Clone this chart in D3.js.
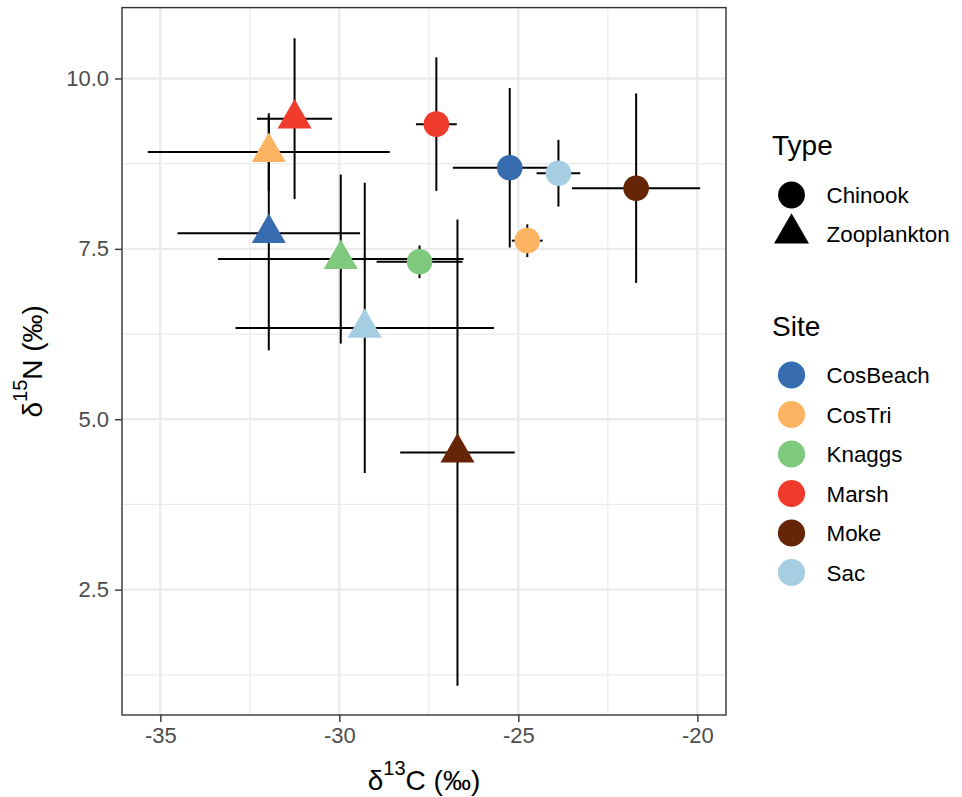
<!DOCTYPE html>
<html>
<head>
<meta charset="utf-8">
<script src="https://cdn.jsdelivr.net/npm/d3@7"></script>
<style>
  body { margin: 0; background: #fff; }
  svg text { font-family: "Liberation Sans", Arial, sans-serif; }
</style>
</head>
<body>
<div id="chart"></div>
<script>
// Site / type of each summary point
const sites = ["CosBeach", "CosTri", "Knaggs", "Marsh", "Moke", "Sac"]
const siteColors = ["#386cb0", "#fdb462", "#7fc97f", "#ef3b2c", "#662506", "#a6cee3"]
const types = ["Chinook", "Zooplankton"]

// Chinook means and SDs, ordered as sites
const chinookC = [-25.24, -24.75, -27.76, -27.29, -21.71, -23.88]
const chinookCsd = [1.59, 0.43, 1.20, 0.57, 1.79, 0.61]
const chinookN = [8.69, 7.62, 7.31, 9.33, 8.39, 8.61]
const chinookNsd = [1.17, 0.24, 0.24, 0.98, 1.39, 0.49]

// Zooplankton means and SDs, ordered as sites
const zooC = [-31.97, -31.97, -29.96, -31.25, -26.70, -29.29]
const zooCsd = [2.55, 3.38, 3.43, 1.05, 1.60, 3.61]
const zooN = [7.73, 8.92, 7.35, 9.41, 4.51, 6.34]
const zooNsd = [1.72, 0.57, 1.24, 1.18, 3.42, 2.13]

const xTicks = [-35, -30, -25, -20]
const xMinor = [-32.5, -27.5, -22.5]
const yTicks = [2.5, 5.0, 7.5, 10.0]
const yMinor = [1.25, 3.75, 6.25, 8.75]
const xLimits = [-36.07, -19.2]
const yLimits = [0.66, 11.04]

const width = 962, height = 797
const margin = { top: 7.6, right: 236, bottom: 82, left: 122 }

const data = []
sites.forEach((s, i) => {
  data.push({ site: s, type: "Chinook", c: chinookC[i], csd: chinookCsd[i], n: chinookN[i], nsd: chinookNsd[i] })
})
sites.forEach((s, i) => {
  data.push({ site: s, type: "Zooplankton", c: zooC[i], csd: zooCsd[i], n: zooN[i], nsd: zooNsd[i] })
})

const svg = d3.select("#chart").append("svg")
  .attr("width", width)
  .attr("height", height)

const x = d3.scaleLinear().domain(xLimits).range([margin.left, width - margin.right])
const y = d3.scaleLinear().domain(yLimits).range([height - margin.bottom, margin.top])
const color = d3.scaleOrdinal().domain(sites).range(siteColors)

const triangle = s => {
  const h = s * Math.sqrt(3) / 2
  return `M0,${-h * 2 / 3}L${s / 2},${h / 3}L${-s / 2},${h / 3}Z`
}
const marker = (sel, type, r, side) => {
  if (type === "Chinook") sel.append("circle").attr("r", r)
  else sel.append("path").attr("d", triangle(side))
}

// grid
const grid = svg.append("g")
grid.selectAll(".xminor").data(xMinor).join("line")
  .attr("x1", d => x(d)).attr("x2", d => x(d))
  .attr("y1", y.range()[0]).attr("y2", y.range()[1])
  .attr("stroke", "#ebebeb").attr("stroke-width", 1.2)
grid.selectAll(".yminor").data(yMinor).join("line")
  .attr("y1", d => y(d)).attr("y2", d => y(d))
  .attr("x1", x.range()[0]).attr("x2", x.range()[1])
  .attr("stroke", "#ebebeb").attr("stroke-width", 1.2)
grid.selectAll(".xmajor").data(xTicks).join("line")
  .attr("x1", d => x(d)).attr("x2", d => x(d))
  .attr("y1", y.range()[0]).attr("y2", y.range()[1])
  .attr("stroke", "#ebebeb").attr("stroke-width", 2.4)
grid.selectAll(".ymajor").data(yTicks).join("line")
  .attr("y1", d => y(d)).attr("y2", d => y(d))
  .attr("x1", x.range()[0]).attr("x2", x.range()[1])
  .attr("stroke", "#ebebeb").attr("stroke-width", 2.4)

// error bars
const bars = svg.append("g").attr("stroke", "#000").attr("stroke-width", 2)
bars.selectAll(".h").data(data).join("line")
  .attr("x1", d => x(d.c - d.csd)).attr("x2", d => x(d.c + d.csd))
  .attr("y1", d => y(d.n)).attr("y2", d => y(d.n))
bars.selectAll(".v").data(data).join("line")
  .attr("x1", d => x(d.c)).attr("x2", d => x(d.c))
  .attr("y1", d => y(d.n - d.nsd)).attr("y2", d => y(d.n + d.nsd))

// points
svg.append("g").selectAll("g").data(data).join("g")
  .attr("transform", d => `translate(${x(d.c)},${y(d.n)})`)
  .attr("fill", d => color(d.site))
  .each(function (d) { marker(d3.select(this), d.type, 12.8, 34) })

// panel border
svg.append("rect")
  .attr("x", x.range()[0]).attr("y", y.range()[1])
  .attr("width", x.range()[1] - x.range()[0])
  .attr("height", y.range()[0] - y.range()[1])
  .attr("fill", "none").attr("stroke", "#333").attr("stroke-width", 1.4)

// axes
const xAxis = svg.append("g")
  .attr("transform", `translate(0,${y.range()[0]})`)
  .call(d3.axisBottom(x).tickValues(xTicks).tickSize(7).tickPadding(5).tickFormat(d3.format("d")))
const yAxis = svg.append("g")
  .attr("transform", `translate(${x.range()[0]},0)`)
  .call(d3.axisLeft(y).tickValues(yTicks).tickSize(7).tickPadding(6).tickFormat(d3.format(".1f")))
;[xAxis, yAxis].forEach(a => {
  a.select(".domain").remove()
  a.selectAll(".tick line").attr("stroke", "#333").attr("stroke-width", 1.4)
  a.selectAll(".tick text").attr("fill", "#4d4d4d").style("font-size", "22px")
})
xAxis.selectAll(".tick text").text(d => d3.format("d")(d).replace("−", "-"))

// axis titles
const xTitle = svg.append("text")
  .attr("x", (x.range()[0] + x.range()[1]) / 2).attr("y", 790)
  .attr("text-anchor", "middle").style("font-size", "28px")
xTitle.append("tspan").text("δ")
xTitle.append("tspan").attr("dy", -15).style("font-size", "20px").text("13")
xTitle.append("tspan").attr("dy", 15).text("C (‰)")

const yTitle = svg.append("text")
  .attr("transform", `translate(42,${(y.range()[0] + y.range()[1]) / 2}) rotate(-90)`)
  .attr("text-anchor", "middle").style("font-size", "28px")
yTitle.append("tspan").text("δ")
yTitle.append("tspan").attr("dy", -15).style("font-size", "20px").text("15")
yTitle.append("tspan").attr("dy", 15).text("N (‰)")

// legends
const legend = svg.append("g")
legend.append("text").attr("x", 772).attr("y", 155).style("font-size", "28px").text("Type")
const typeRows = legend.selectAll(".type").data(types).join("g")
  .attr("transform", (d, i) => `translate(791.5,${195 + i * 38.5})`)
typeRows.each(function (d) { marker(d3.select(this), d, 13.4, 35) })
typeRows.append("text").attr("x", 35).attr("y", 8).style("font-size", "22.4px").text(d => d)

legend.append("text").attr("x", 772).attr("y", 336).style("font-size", "28px").text("Site")
const siteRows = legend.selectAll(".site").data(sites).join("g")
  .attr("transform", (d, i) => `translate(791.5,${375 + i * 39.5})`)
siteRows.append("circle").attr("r", 13.6).attr("fill", d => color(d))
siteRows.append("text").attr("x", 35).attr("y", 8).style("font-size", "22.4px").text(d => d)
</script>
</body>
</html>
